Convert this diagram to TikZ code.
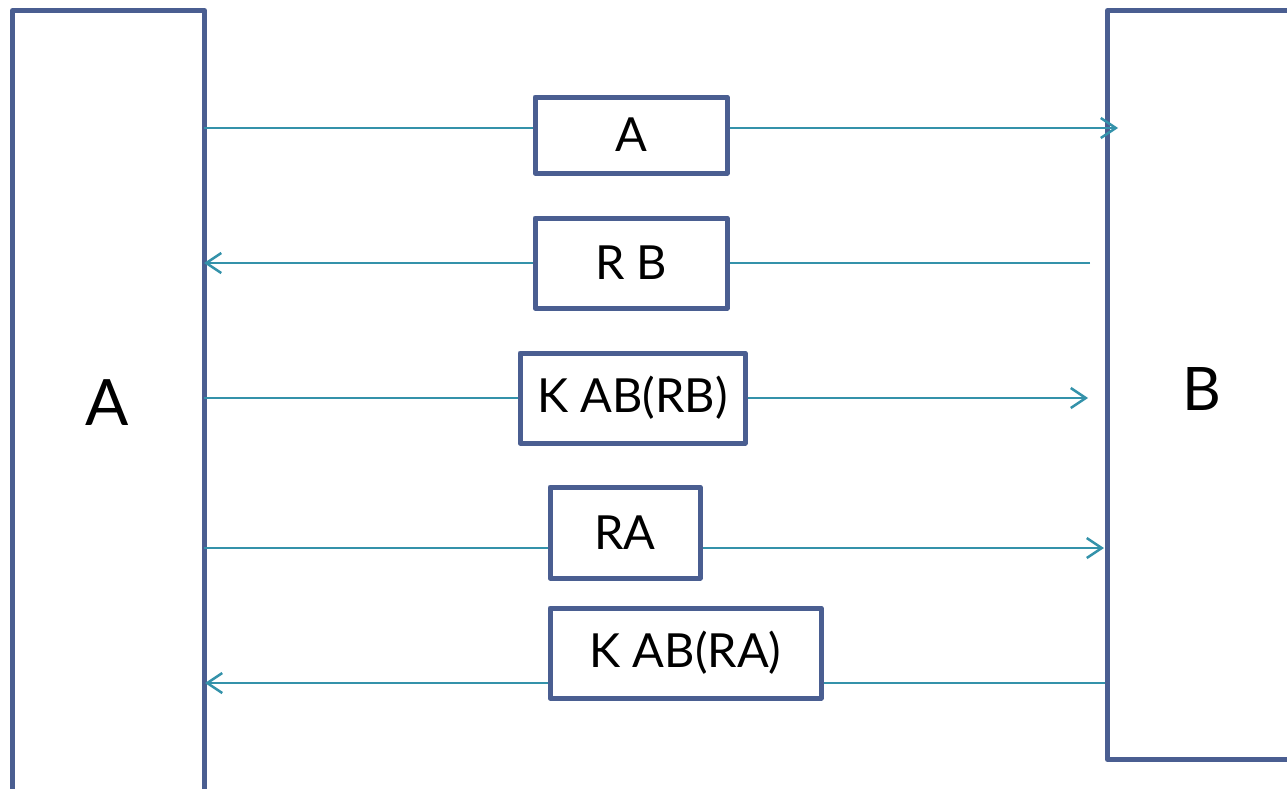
\documentclass[tikz,border=0pt]{standalone}
\usepackage{fontspec}
\setmainfont{Lato}
\usetikzlibrary{arrows.meta}
\definecolor{boxblue}{RGB}{74,94,145}
\definecolor{lineteal}{RGB}{52,146,170}
\tikzset{
  party/.style={draw=boxblue, line width=5pt, line join=round, fill=white},
  msgbox/.style={draw=boxblue, line width=5pt, line join=round, fill=white, inner sep=0pt, font=\fontsize{47}{50}\selectfont},
  conn/.style={draw=lineteal, line width=2.5pt},
  arr/.style={conn, -{Straight Barb[length=15pt,width=20pt,line width=2.5pt]}}
}
\begin{document}
\begin{tikzpicture}[x=1pt,y=-1pt]
\useasboundingbox (0,0) rectangle (1287,788);
\clip (0,0) rectangle (1287,788);
% parties
\node[party, minimum width=192pt, minimum height=800pt, anchor=north west] (LA) at (10,8) {};
\node[party, minimum width=220pt, minimum height=749pt, anchor=north west] (RB) at (1105,8) {};
\node[font=\fontsize{64}{68}\selectfont] (labA) at (107,403) {A};
\node[font=\fontsize{60}{64}\selectfont] (labB) at (1202,389) {B};
% message boxes
\node[msgbox, minimum width=192pt, minimum height=76pt] (mA) at (631,135) {A};
\node[msgbox, minimum width=192pt, minimum height=90pt] (mRB) at (631,263) {R B};
\node[msgbox, minimum width=225pt, minimum height=90pt] (mKRB) at (632.5,398) {K AB(RB)};
\node[msgbox, minimum width=150pt, minimum height=91pt] (mRA) at (625,532.5) {RA};
\node[msgbox, minimum width=271pt, minimum height=90pt] (mKRA) at (685.5,653) {K AB(RA)};
% connector end points
\coordinate (s1) at (204,128);
\coordinate (e1) at (1118,128);
\coordinate (s2) at (1090,263);
\coordinate (e2) at (204,263);
\coordinate (s3) at (204,398);
\coordinate (e3) at (1088,398);
\coordinate (s4) at (204,548);
\coordinate (e4) at (1104,548);
\coordinate (s5) at (1105,683);
\coordinate (e5) at (205,683);
% connectors
\draw[conn] (s1) -- (mA.west |- s1);
\draw[arr] (mA.east |- s1) -- (e1);
\draw[conn] (s2) -- (mRB.east);
\draw[arr] (mRB.west) -- (e2);
\draw[conn] (s3) -- (mKRB.west);
\draw[arr] (mKRB.east) -- (e3);
\draw[conn] (s4) -- (mRA.west |- s4);
\draw[arr] (mRA.east |- s4) -- (e4);
\draw[conn] (s5) -- (mKRA.east |- s5);
\draw[arr] (mKRA.west |- s5) -- (e5);
\end{tikzpicture}
\end{document}
